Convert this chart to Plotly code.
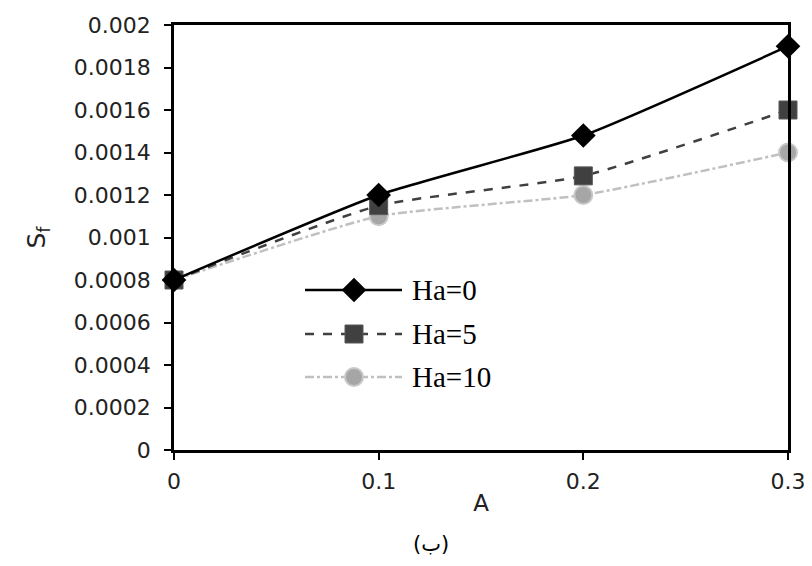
import plotly.graph_objects as go

A = [0, 0.1, 0.2, 0.3]
ha0 = [0.0008, 0.0012, 0.00148, 0.0019]
ha5 = [0.0008, 0.00115, 0.00129, 0.0016]
ha10 = [0.0008, 0.0011, 0.0012, 0.0014]
names = ["Ha=0", "Ha=5", "Ha=10"]
yticks = [0, 0.0002, 0.0004, 0.0006, 0.0008, 0.001, 0.0012, 0.0014, 0.0016, 0.0018, 0.002]
ytext = ["0", "0.0002", "0.0004", "0.0006", "0.0008", "0.001", "0.0012", "0.0014", "0.0016", "0.0018", "0.002"]
xticks = [0, 0.1, 0.2, 0.3]
xtext = ["0", "0.1", "0.2", "0.3"]

styles = [
    dict(line=dict(color="#000000", width=2.5, dash="solid", shape="spline", smoothing=0.5),
         marker=dict(symbol="diamond", size=19, color="#000000")),
    dict(line=dict(color="#404040", width=2.5, dash="dash", shape="spline", smoothing=0.5),
         marker=dict(symbol="square", size=18, color="#404040", line=dict(color="#595959", width=1))),
    dict(line=dict(color="#c0c0c0", width=2.5, dash="dashdot", shape="spline", smoothing=0.5),
         marker=dict(symbol="circle", size=18, color="#a6a6a6", line=dict(color="#c8c8c8", width=2))),
]

fig = go.Figure()
for name, ys, st in reversed(list(zip(names, [ha0, ha5, ha10], styles))):
    fig.add_trace(go.Scatter(x=A, y=ys, mode="lines+markers", name=name,
                             line=st["line"], marker=st["marker"], cliponaxis=False,
                             showlegend=False))

OFF = 8  # page body margin
FW, FH = 812 - 2 * OFF, 566 - 2 * OFF
L, R, T, B = 174 - OFF, 788 - OFF, 25 - OFF, 450 - OFF
W, H = R - L, B - T
def px(x): return (x - OFF - L) / W
def py(y): return (B - (y - OFF)) / H

leg_rows = [290, 334, 377]
shapes = []
annots = []
for name, st, yy in zip(names, styles, leg_rows):
    shapes.append(dict(type="line", xref="paper", yref="paper", layer="below",
                       x0=px(305), x1=px(402), y0=py(yy), y1=py(yy),
                       line=dict(color=st["line"]["color"], width=2.5, dash=st["line"]["dash"])))
    annots.append(dict(xref="paper", yref="paper", x=px(410), y=py(yy), text=name,
                       showarrow=False, xanchor="left", yanchor="middle",
                       font=dict(family="Liberation Serif", size=29, color="#000000")))
fig.add_trace(go.Scatter(x=[px(354)] * 3, y=[py(v) for v in leg_rows], xaxis="x2", yaxis="y2",
                         mode="markers", showlegend=False, hoverinfo="skip",
                         marker=dict(symbol=["diamond", "square", "circle"], size=[19, 18, 18], opacity=1,
                                     color=["#000000", "#404040", "#a6a6a6"],
                                     line=dict(color=["#000000", "#595959", "#c8c8c8"], width=[0, 1, 2]))))

annots.append(dict(xref="paper", yref="paper", x=px(431), y=py(544), text="(ب)",
                   showarrow=False, xanchor="center", yanchor="middle",
                   font=dict(family="DejaVu Sans", size=21, color="#000000")))

axfont = dict(family="DejaVu Sans", size=22, color="#222222")
fig.update_layout(
    width=FW, height=FH,
    margin=dict(l=L, r=FW - R, t=T, b=FH - B),
    paper_bgcolor="white", plot_bgcolor="white",
    xaxis=dict(range=[0, 0.3], tickvals=xticks, ticktext=xtext, showgrid=False, zeroline=False,
               showline=True, linecolor="black", linewidth=2.5, mirror=True,
               ticks="outside", ticklen=7, tickwidth=2, tickcolor="black", ticklabelstandoff=3,
               tickfont=axfont, automargin=False, ticklabeloverflow="allow",
               title=dict(text="A", font=dict(family="DejaVu Sans", size=23, color="#222222"), standoff=2)),
    yaxis=dict(range=[0, 0.002], tickvals=yticks, ticktext=ytext, showgrid=False, zeroline=False,
               showline=True, linecolor="black", linewidth=2.5, mirror=True,
               ticks="outside", ticklen=7, tickwidth=2, tickcolor="black", ticklabelstandoff=9,
               tickfont=axfont, automargin=False, ticklabeloverflow="allow",
               title=dict(text="S<sub>f</sub>", font=dict(family="DejaVu Sans", size=25, color="#222222"), standoff=22)),
    xaxis2=dict(range=[0, 1], overlaying="x", visible=False),
    yaxis2=dict(range=[0, 1], overlaying="y", visible=False),
    shapes=shapes, annotations=annots,
)
fig.write_html("out.html")
